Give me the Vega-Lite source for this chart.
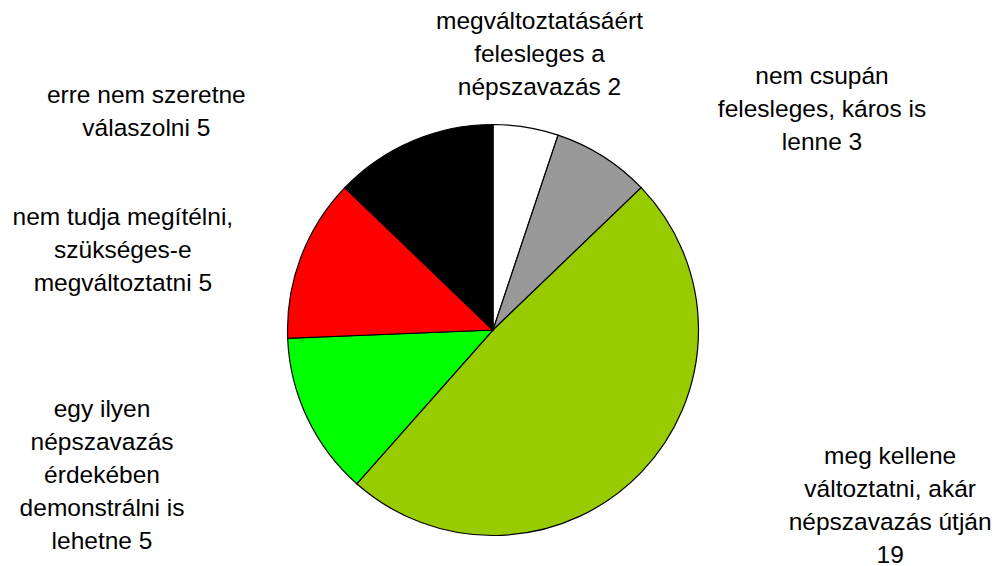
{
  "$schema": "https://vega.github.io/schema/vega-lite/v6.json",
  "width": 986,
  "height": 472,
  "autosize": "none",
  "padding": {"left": 0, "top": 94, "right": 14, "bottom": 0},
  "background": "white",
  "config": {"view": {"stroke": null}},
  "data": {
    "values": [
      {"i": 1, "cat": "megváltoztatásáért felesleges a népszavazás", "value": 2, "label": "megváltoztatásáért\nfelesleges a\nnépszavazás 2"},
      {"i": 2, "cat": "nem csupán felesleges, káros is lenne", "value": 3, "label": "nem csupán\nfelesleges, káros is\nlenne 3"},
      {"i": 3, "cat": "meg kellene változtatni, akár népszavazás útján", "value": 19, "label": "meg kellene\nváltoztatni, akár\nnépszavazás útján\n19"},
      {"i": 4, "cat": "egy ilyen népszavazás érdekében demonstrálni is lehetne", "value": 5, "label": "egy ilyen\nnépszavazás\nérdekében\ndemonstrálni is\nlehetne 5"},
      {"i": 5, "cat": "nem tudja megítélni, szükséges-e megváltoztatni", "value": 5, "label": "nem tudja megítélni,\nszükséges-e\nmegváltoztatni 5"},
      {"i": 6, "cat": "erre nem szeretne válaszolni", "value": 5, "label": "erre nem szeretne\nválaszolni 5"}
    ]
  },
  "encoding": {
    "theta": {"field": "value", "type": "quantitative", "stack": true},
    "order": {"field": "i", "type": "quantitative"}
  },
  "layer": [
    {
      "mark": {"type": "arc", "outerRadius": 205.5, "stroke": "black", "strokeWidth": 1.2},
      "encoding": {
        "color": {
          "field": "cat",
          "type": "nominal",
          "scale": {
            "domain": ["megváltoztatásáért felesleges a népszavazás", "nem csupán felesleges, káros is lenne", "meg kellene változtatni, akár népszavazás útján", "egy ilyen népszavazás érdekében demonstrálni is lehetne", "nem tudja megítélni, szükséges-e megváltoztatni", "erre nem szeretne válaszolni"],
            "range": ["#FFFFFF", "#999999", "#99CC00", "#00FF00", "#FF0000", "#000000"]
          },
          "legend": null
        }
      }
    },
    {
      "mark": {"type": "text", "radius": 290, "dx": 0, "dy": -22, "fontSize": 24.5, "font": "Liberation Sans", "lineHeight": 33, "lineBreak": "\n", "baseline": "middle", "align": "center", "color": "black"},
      "encoding": {"text": {"condition": {"test": "datum.i === 1", "field": "label"}, "value": ""}}
    },
    {
      "mark": {"type": "text", "radius": 290, "dx": 174, "dy": -8, "fontSize": 24.5, "font": "Liberation Sans", "lineHeight": 33, "lineBreak": "\n", "baseline": "middle", "align": "center", "color": "black"},
      "encoding": {"text": {"condition": {"test": "datum.i === 2", "field": "label"}, "value": ""}}
    },
    {
      "mark": {"type": "text", "radius": 290, "dx": 188, "dy": -74, "fontSize": 24.5, "font": "Liberation Sans", "lineHeight": 33, "lineBreak": "\n", "baseline": "middle", "align": "center", "color": "black"},
      "encoding": {"text": {"condition": {"test": "datum.i === 3", "field": "label"}, "value": ""}}
    },
    {
      "mark": {"type": "text", "radius": 290, "dx": -129, "dy": -44, "fontSize": 24.5, "font": "Liberation Sans", "lineHeight": 33, "lineBreak": "\n", "baseline": "middle", "align": "center", "color": "black"},
      "encoding": {"text": {"condition": {"test": "datum.i === 4", "field": "label"}, "value": ""}}
    },
    {
      "mark": {"type": "text", "radius": 290, "dx": -99, "dy": -9, "fontSize": 24.5, "font": "Liberation Sans", "lineHeight": 33, "lineBreak": "\n", "baseline": "middle", "align": "center", "color": "black"},
      "encoding": {"text": {"condition": {"test": "datum.i === 5", "field": "label"}, "value": ""}}
    },
    {
      "mark": {"type": "text", "radius": 290, "dx": -233, "dy": 33, "fontSize": 24.5, "font": "Liberation Sans", "lineHeight": 33, "lineBreak": "\n", "baseline": "middle", "align": "center", "color": "black"},
      "encoding": {"text": {"condition": {"test": "datum.i === 6", "field": "label"}, "value": ""}}
    }
  ]
}
